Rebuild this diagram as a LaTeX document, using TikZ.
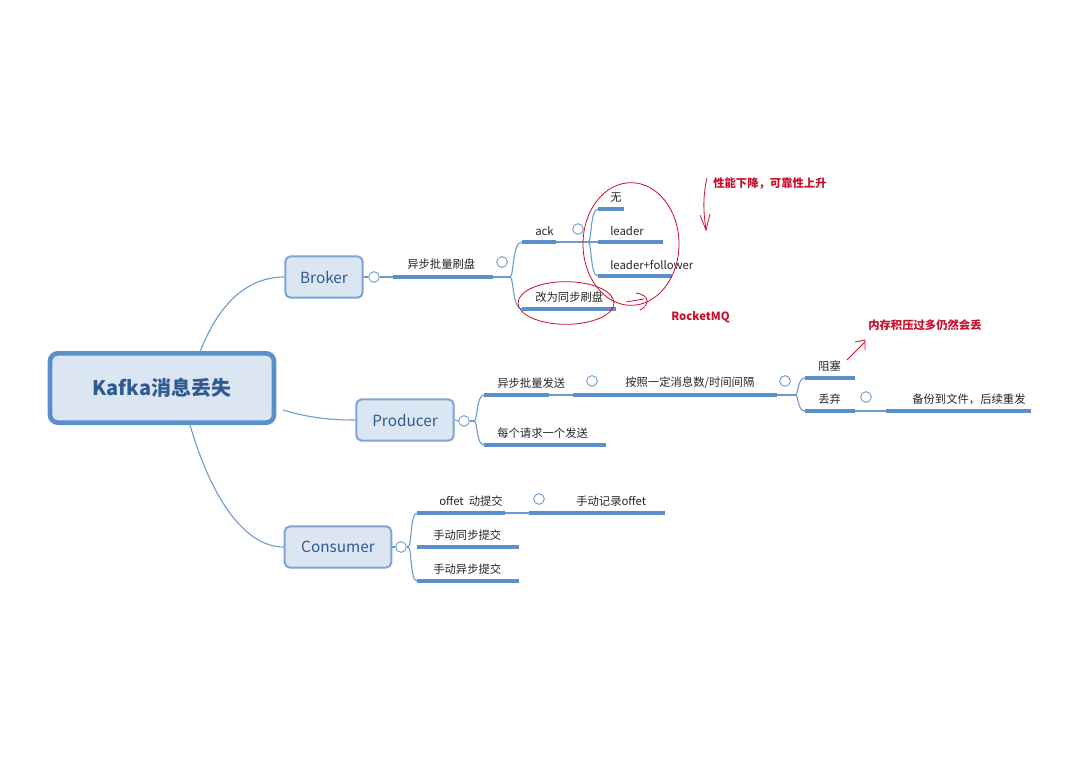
\documentclass[tikz,border=0pt]{standalone}
\usepackage{fontspec}
\setmainfont{Noto Sans CJK SC}
\begin{document}
\begin{tikzpicture}[x=0.75pt,y=-0.75pt,
  topic/.style={draw=myblue!80,line width=1.5pt,fill=topicfill,rounded corners=4pt,font=\fontsize{11.5}{13}\selectfont,text=titleblue,minimum height=31pt,inner sep=0pt},
  lbl/.style={font=\fontsize{8.5}{10}\selectfont,text=black!85,inner sep=0pt,anchor=south west},
  ul/.style={myblue,line width=2.3pt},
  br/.style={myblue!90,line width=0.8pt},
  tog/.style={circle,draw=myblue,line width=0.6pt,fill=white,minimum size=8pt,inner sep=0pt},
  red/.style={draw=annred,line width=0.6pt},
  rtxt/.style={font=\bfseries\fontsize{8.5}{10}\selectfont,text=annred,inner sep=0pt}]
\definecolor{myblue}{HTML}{5B8FCB}
\definecolor{topicfill}{HTML}{DCE6F3}
\definecolor{titleblue}{HTML}{2F5B8F}
\definecolor{annred}{HTML}{C8102E}
\useasboundingbox[fill=white] (0,0) rectangle (1080,763);

% central topic
\node[draw=myblue,line width=3.5pt,fill=topicfill,rounded corners=6pt,minimum width=168pt,minimum height=52pt,font=\bfseries\fontsize{15}{18}\selectfont,text=titleblue] (root) at (162,388) {Kafka消息丢失};
\node[topic,minimum width=58pt] (broker) at (324,277) {Broker};
\node[topic,minimum width=73pt] (producer) at (405,420) {Producer};
\node[topic,minimum width=80pt] (consumer) at (338,547) {Consumer};

\draw[br] (200,352) .. controls (220,300) and (250,277) .. (broker.west);
\draw[br] (283,410) .. controls (310,418) and (330,420) .. (producer.west);
\draw[br] (190,425) .. controls (215,510) and (250,547) .. (consumer.west);

% ---- Broker branch
\node[tog] (t1) at (374,277) {};
\draw[br] (broker.east) -- (t1.west);
\draw[br] (t1.east) -- (393,277);
\draw[ul] (393,277) -- (493,277);
\node[lbl] (l1) at (407,270) {异步批量刷盘};
\node[tog] (t2) at (502,262) {};
\draw[br] (493,277) -- (510,277);
\draw[br] (510,277) .. controls (514,277) and (512,242) .. (522,242);
\draw[br] (510,277) .. controls (514,277) and (512,309) .. (522,309);
\draw[ul] (522,242) -- (556,242);
\node[lbl] (lack) at (535,236) {ack};
\node[tog] (t3) at (578,229) {};
\draw[br] (556,242) -- (598,242);
\draw[br] (588,242) .. controls (592,242) and (590,209) .. (598,209);
\draw[br] (588,242) .. controls (592,242) and (590,276) .. (598,276);
\draw[ul] (598,209) -- (624,209);
\node[lbl] (lwu) at (610,203) {无};
\draw[ul] (598,242) -- (663,242);
\node[lbl] (lleader) at (610,236) {leader};
\draw[ul] (598,276) -- (672,276);
\node[lbl] (llf) at (610,270) {leader+follower};
\draw[ul] (522,309) -- (616,309);
\node[lbl] (lsync) at (535,303) {改为同步刷盘};

% ---- Producer branch
\node[tog] (t4) at (464,421) {};
\draw[br] (producer.east) -- (t4.west);
\draw[br] (t4.east) -- (474,421);
\draw[br] (474,421) .. controls (478,421) and (476,395) .. (484,395);
\draw[br] (474,421) .. controls (478,421) and (476,445) .. (484,445);
\draw[ul] (484,395) -- (549,395);
\node[lbl] (la) at (497,389) {异步批量发送};
\node[tog] (t5) at (592,381) {};
\draw[br] (549,395) -- (573,395);
\draw[ul] (573,395) -- (777,395);
\node[lbl] (lb) at (625,389) {按照一定消息数/时间间隔};
\node[tog] (t6) at (785,381) {};
\draw[br] (777,395) -- (795,395);
\draw[br] (795,395) .. controls (799,395) and (797,378) .. (805,378);
\draw[br] (795,395) .. controls (799,395) and (797,411) .. (805,411);
\draw[ul] (805,378) -- (855,378);
\node[lbl] (lc) at (818,372) {阻塞};
\draw[ul] (805,411) -- (855,411);
\node[lbl] (ld) at (818,405) {丢弃};
\node[tog] (t7) at (866,397) {};
\draw[br] (855,411) -- (886,411);
\draw[ul] (886,411) -- (1031,411);
\node[lbl] (le) at (912,405) {备份到文件，后续重发};
\draw[ul] (484,445) -- (606,445);
\node[lbl] (lf) at (497,439) {每个请求一个发送};

% ---- Consumer branch
\node[tog] (t8) at (401,547) {};
\draw[br] (consumer.east) -- (t8.west);
\draw[br] (t8.east) -- (408,547);
\draw[br] (408,547) .. controls (412,547) and (410,513) .. (417,513);
\draw[br] (408,547) .. controls (412,547) and (410,581) .. (417,581);
\draw[ul] (417,513) -- (505,513);
\node[lbl] (lg) at (439,507) {offet\ \ 动提交};
\node[tog] (t9) at (539,499) {};
\draw[br] (505,513) -- (529,513);
\draw[ul] (529,513) -- (665,513);
\node[lbl] (lh) at (576,507) {手动记录offet};
\draw[ul] (417,547) -- (519,547);
\node[lbl] (li) at (433,541) {手动同步提交};
\draw[ul] (417,581) -- (519,581);
\node[lbl] (lj) at (433,575) {手动异步提交};

% ---- red annotations
\draw[red] (631,244) ellipse (36pt and 46pt);
\draw[red] (566,303) ellipse (36pt and 16pt);
\node[rtxt,anchor=west] (r1) at (713,184) {性能下降，可靠性上升};
\node[rtxt,anchor=west] (r2) at (671,317) {RocketMQ};
\node[rtxt,anchor=west] (r3) at (868,325) {内存积压过多仍然会丢};
\draw[red] (707,178) .. controls (702,200) and (704,215) .. (706,230);
\draw[red] (700,215) -- (706,230) -- (710,214);
\draw[red] (626,302) -- (644,299);
\draw[red] (636,293) .. controls (650,295) and (650,305) .. (640,310);
\draw[red] (847,360) -- (865,342);
\draw[red] (855,342) -- (865,340) -- (865,350);
\end{tikzpicture}
\end{document}
